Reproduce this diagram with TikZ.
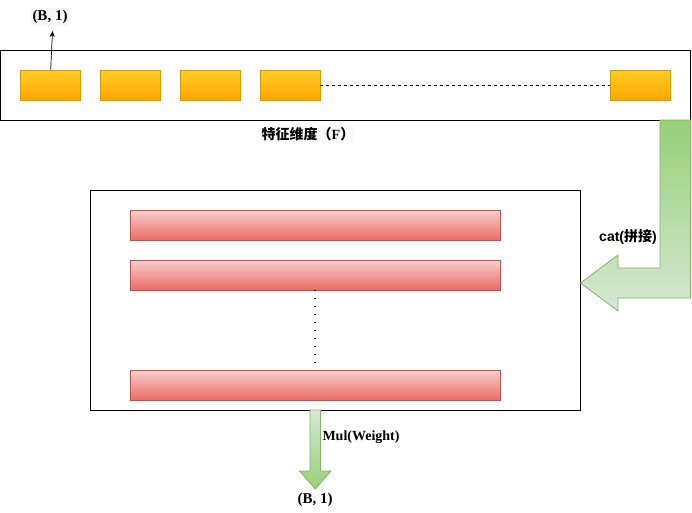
\documentclass[tikz,border=0pt]{standalone}
\usepackage{fontspec}
\setmainfont{Liberation Serif}
\setsansfont{Liberation Sans}
\newfontfamily\cjk{Noto Sans CJK SC}
\usetikzlibrary{arrows.meta}
\definecolor{orTop}{HTML}{FFCD28}
\definecolor{orBot}{HTML}{FFA500}
\definecolor{orLine}{HTML}{D79B00}
\definecolor{rdTop}{HTML}{F8CECC}
\definecolor{rdBot}{HTML}{EA6B66}
\definecolor{rdLine}{HTML}{B85450}
\definecolor{gnDark}{HTML}{97D077}
\definecolor{gnLight}{HTML}{D5E8D4}
\definecolor{gnLine}{HTML}{82B366}
\tikzset{
  frame/.style={draw=black, line width=1pt, inner sep=0pt},
  obox/.style={draw=orLine, line width=0.8pt, top color=orTop, bottom color=orBot, minimum width=60pt, minimum height=30pt, inner sep=0pt},
  rbar/.style={draw=rdLine, line width=0.8pt, top color=rdTop, bottom color=rdBot, minimum width=370pt, minimum height=30pt, inner sep=0pt},
  lbl/.style={font=\fontsize{14}{16}\selectfont\bfseries, inner sep=1pt},
  blbl/.style={font=\fontsize{15}{17}\selectfont\bfseries, inner sep=2pt},
  garrow/.style={draw=gnLine, line width=0.8pt}
}
\begin{document}
\begin{tikzpicture}[x=1pt,y=-1pt]
\useasboundingbox (0,0) rectangle (692,512);
% top frame
\node[frame, minimum width=690pt, minimum height=70pt] (feat) at (345,85) {};
\node[obox] (o1) at (50,85) {};
\node[obox] (o2) at (130,85) {};
\node[obox] (o3) at (210,85) {};
\node[obox] (o4) at (290,85) {};
\node[obox] (o5) at (640,85) {};
\draw[dashed, line width=0.7pt] (o4.east) -- (o5.west);
\node[blbl, fill=black!3] (bt) at (50,17) {(B, 1)};
\coordinate (btip) at (52.5,31);
\draw[line width=0.7pt, -{Stealth[length=6pt,width=5pt]}] ([xshift=0.7pt]o1.north) -- (btip);
\node[lbl, fill=black!2] (fl) at (308,134) {{\cjk\bfseries 特征维度（}F{\cjk\bfseries ）}};
% middle frame
\node[frame, minimum width=490pt, minimum height=220pt] (mid) at (335,300) {};
\node[rbar] (r1) at (315,225) {};
\node[rbar] (r2) at (315,275) {};
\node[rbar] (r3) at (315,385) {};
\draw[line width=1.5pt, dash pattern=on 1.5pt off 6.5pt, shorten >=4pt] ([yshift=0.5pt]r2.south) -- (r3.north);
% green L arrow (cat)
\path[garrow, top color=gnDark, bottom color=gnLight]
  (660,120) -- (690.5,120) -- (690.5,298) -- (618,298) -- (618,311) -- (580.5,283) -- (618,255) -- (618,268) -- (660,268) -- cycle;
\node[font=\fontsize{14}{16}\selectfont\bfseries\sffamily, inner sep=1pt] (cat) at (628,237) {cat({\cjk\bfseries 拼接})};
% down arrow (Mul)
\path[garrow, top color=gnLight, bottom color=gnDark]
  (310,410) -- (320.5,410) -- (320.5,471) -- (331,471) -- (315.3,489) -- (299.5,471) -- (310,471) -- cycle;
\node[lbl] (mul) at (361,437) {Mul(Weight)};
\node[blbl] (bb) at (315,500) {(B, 1)};
\end{tikzpicture}
\end{document}
